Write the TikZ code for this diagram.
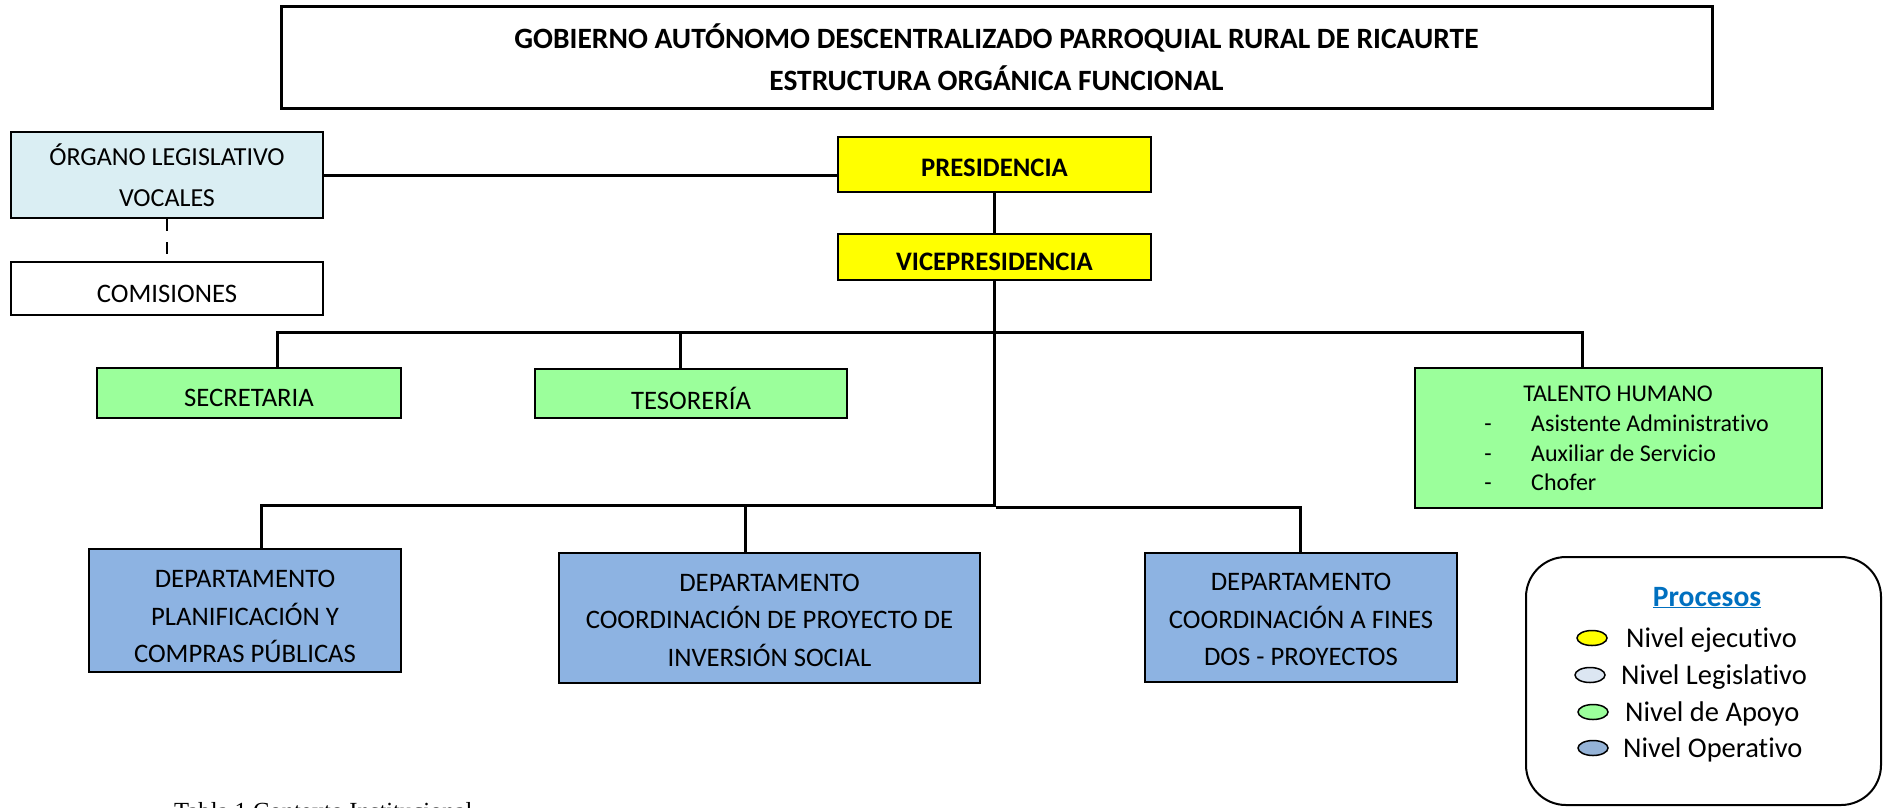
\documentclass[tikz,border=0pt]{standalone}
\usepackage{fontspec}
\setmainfont[Ligatures=NoCommon]{Carlito}
\newfontfamily\capfont{Liberation Serif}
\usetikzlibrary{shapes.geometric}
\definecolor{ejec}{HTML}{FFFF00}
\definecolor{legis}{HTML}{DAEEF3}
\definecolor{apoyo}{HTML}{9BFF9B}
\definecolor{oper}{HTML}{8DB3E2}
\definecolor{legislg}{HTML}{DCE6F2}
\definecolor{operlg}{HTML}{95B3D7}
\definecolor{procblue}{HTML}{0070C0}
\begin{document}
\begin{tikzpicture}[x=1pt,y=-1pt,
  orgbox/.style={draw=black, line width=2pt, inner sep=0pt},
  boxtxt/.style={inner sep=0pt, align=center, font=\fontsize{26.7}{37.5}\selectfont},
  boldtxt/.style={inner sep=0pt, align=center, font=\bfseries\fontsize{26.7}{30}\selectfont},
  conn/.style={line width=3pt, line join=miter},
  dotline/.style={line width=2pt, dash pattern=on 12pt off 11pt},
  legdot/.style={ellipse, draw=black, line width=1.5pt, inner sep=0pt,
    minimum width=30pt, minimum height=15pt},
  legtext/.style={anchor=base west, inner sep=0pt, font=\fontsize{28.5}{32}\selectfont},
  thtxt/.style={inner sep=0pt, font=\fontsize{24}{28}\selectfont}
]
\useasboundingbox (0,0) rectangle (1884,807);

% title
\node[orgbox, line width=3pt, minimum width=1431pt, minimum height=102pt] (title) at (996.5,57) {};
\node[inner sep=0pt, align=center, font=\bfseries\fontsize{29.5}{42}\selectfont] (title-t) at (title.center)
  {GOBIERNO AUTÓNOMO DESCENTRALIZADO PARROQUIAL RURAL DE RICAURTE\\ESTRUCTURA ORGÁNICA FUNCIONAL};

% left column
\node[orgbox, fill=legis, minimum width=312pt, minimum height=86pt] (organo) at (167,175) {};
\node[boxtxt, font=\fontsize{26}{41}\selectfont] (organo-t) at (organo.center) {ÓRGANO LEGISLATIVO\\VOCALES};
\node[orgbox, minimum width=312pt, minimum height=53pt] (comis) at (167,288.5) {};
\node[boxtxt] (comis-t) at ([yshift=-5pt]comis.center) {COMISIONES};

% executive
\node[orgbox, fill=ejec, minimum width=313pt, minimum height=55pt] (pres) at (994.5,164.5) {};
\node[boldtxt] (pres-t) at ([yshift=-3pt]pres.center) {PRESIDENCIA};
\node[orgbox, fill=ejec, minimum width=313pt, minimum height=46pt] (vice) at (994.5,257) {};
\node[boldtxt] (vice-t) at ([yshift=-5pt]vice.center) {VICEPRESIDENCIA};

% support
\node[orgbox, fill=apoyo, minimum width=304pt, minimum height=50pt] (secre) at (249,393) {};
\node[boxtxt] (secre-t) at ([yshift=-5pt]secre.center) {SECRETARIA};
\node[orgbox, fill=apoyo, minimum width=312pt, minimum height=49pt] (teso) at (691,393.5) {};
\node[boxtxt] (teso-t) at ([yshift=-5pt]teso.center) {TESORERÍA};
\node[orgbox, fill=apoyo, minimum width=407pt, minimum height=140pt] (talento) at (1618.5,438) {};
\node[thtxt, anchor=base] (th) at (1618,401) {TALENTO HUMANO};
\node[thtxt, anchor=base] (d1) at (1488,431) {-};
\node[thtxt, anchor=base] (d2) at (1488,461) {-};
\node[thtxt, anchor=base] (d3) at (1488,490) {-};
\node[thtxt, anchor=base west] (t1) at (1531,431) {Asistente Administrativo};
\node[thtxt, anchor=base west] (t2) at (1531,461) {Auxiliar de Servicio};
\node[thtxt, anchor=base west] (t3) at (1531,490) {Chofer};

% operative
\node[orgbox, fill=oper, minimum width=312pt, minimum height=123pt] (dep1) at (245,610.5) {};
\node[boxtxt] (dep1-t) at ([yshift=-6pt]dep1.center) {DEPARTAMENTO\\PLANIFICACIÓN Y\\COMPRAS PÚBLICAS};
\node[orgbox, fill=oper, minimum width=421pt, minimum height=130pt] (dep2) at (769.5,618) {};
\node[boxtxt] (dep2-t) at ([yshift=-2pt]dep2.center) {DEPARTAMENTO\\COORDINACIÓN DE PROYECTO DE\\INVERSIÓN SOCIAL};
\node[orgbox, fill=oper, minimum width=312pt, minimum height=129pt] (dep3) at (1301,617.5) {};
\node[boxtxt] (dep3-t) at ([yshift=-2pt]dep3.center) {DEPARTAMENTO\\COORDINACIÓN A FINES\\DOS - PROYECTOS};

% legend
\node[draw=black, line width=2pt, rounded corners=40pt, minimum width=355pt, minimum height=248pt,
  inner sep=0pt] (legend) at (1703.5,681) {};
\node[anchor=base, inner sep=0pt, text=procblue, font=\bfseries\fontsize{29.5}{32}\selectfont]
  (proc) at (1707,606) {\underline{Procesos}};
\node[legdot, fill=ejec] (e1) at (1592,638) {};
\node[legdot, fill=legislg] (e2) at (1590,675) {};
\node[legdot, fill=apoyo] (e3) at (1593,712) {};
\node[legdot, fill=operlg] (e4) at (1593,748) {};
\node[legtext] (l1) at (1626,647) {Nivel ejecutivo};
\node[legtext] (l2) at (1621,684) {Nivel Legislativo};
\node[legtext] (l3) at (1625,721) {Nivel de Apoyo};
\node[legtext] (l4) at (1623,757) {Nivel Operativo};

% caption (cut by page edge, as in the reference)
\node[anchor=base west, inner sep=0pt, font=\capfont\fontsize{24.6}{28}\selectfont] (cap) at (174,819)
  {Tabla 1 Contexto Institucional};

% connectors
\coordinate (ubs) at (277,332);
\coordinate (ubt) at (680,332);
\coordinate (ubh) at (1582,332);
\coordinate (lb1) at (261,505);
\coordinate (lb2) at (745,505);
\coordinate (lbc) at (996,505);
\coordinate (lbr) at (996,507);
\coordinate (lb3) at (1300,507);

\draw[conn] (organo.east) -- (organo.east -| pres.west);
\draw[dotline] (organo.south) -- (comis.north);
\draw[conn] (pres.south) -- (vice.north);
\draw[conn] (vice.south) -- (vice.south |- lbc);
\draw[conn] (secre.north -| ubs) -- (ubs) -- (ubh) -- (talento.north -| ubh);
\draw[conn] (ubt) -- (teso.north -| ubt);
\draw[conn] (dep1.north -| lb1) -- (lb1) -- (lbc);
\draw[conn] (lb2) -- (dep2.north -| lb2);
\draw[conn] (lbr) -- (lb3) -- (dep3.north -| lb3);
\end{tikzpicture}
\end{document}
